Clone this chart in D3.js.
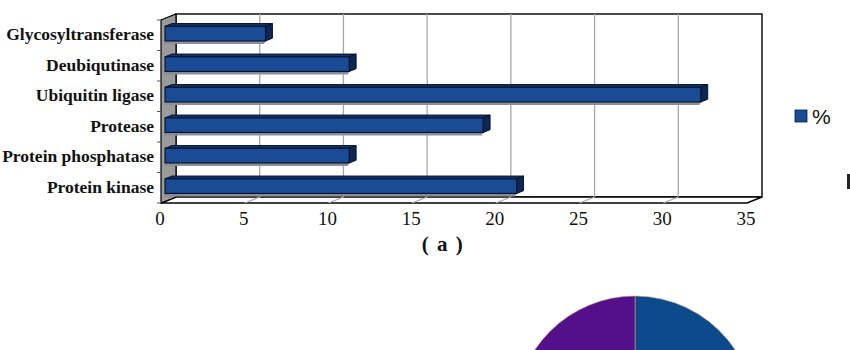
<!DOCTYPE html>
<html>
<head>
<meta charset="utf-8">
<script src="https://cdn.jsdelivr.net/npm/d3@7"></script>
<style>
  html, body { margin: 0; padding: 0; background: #fff; }
  svg { display: block; }
</style>
</head>
<body>
<svg id="chart" width="850" height="350"></svg>
<script>
// Enzyme classes, listed top to bottom
const categories = [
  "Glycosyltransferase",
  "Deubiqutinase",
  "Ubiquitin ligase",
  "Protease",
  "Protein phosphatase",
  "Protein kinase"
];
// Share of each class, %
const percentValues = [6, 11, 32, 19, 11, 21];
const xTicks = [0, 5, 10, 15, 20, 25, 30, 35];
const seriesName = "%";

// Pie (b): only its upper part fits in the frame
const pieLabels = ["Blue", "Brown", "Green", "Purple"];
const pieValues = [28, 22, 25, 25];
const pieColors = ["#0d4a8c", "#8a5a2b", "#4e8a2f", "#54108a"];

const SERIF = "Liberation Serif";
const SANS = "Liberation Sans";

const svg = d3.select("#chart");

// Depth offset of the 3D box (front plane -> back wall)
const DX = 15, DY = -6;
const x = d3.scaleLinear().domain([0, 35]).range([161, 747]);
const y = d3.scaleBand().domain(categories).range([20, 203]).paddingInner(0.52).paddingOuter(0.26);
const yBand = d3.scaleBand().domain(categories).range([20, 203]);
const proj = (vx, vy, d) => [x(vx) + d * DX, vy + d * DY];

const front = { top: 20, bottom: 203 };

// Back wall
svg.append("rect")
  .attr("x", x(0) + DX).attr("y", front.top + DY)
  .attr("width", x(35) - x(0)).attr("height", front.bottom - front.top)
  .attr("fill", "#fff").attr("stroke", "#000").attr("stroke-width", 1.4);

// Floor
svg.append("polygon")
  .attr("points", [proj(0, front.bottom, 0), proj(35, front.bottom, 0), proj(35, front.bottom, 1), proj(0, front.bottom, 1)].join(" "))
  .attr("fill", "#fff").attr("stroke", "#000").attr("stroke-width", 1.4);

// Grid lines on the wall and floor
const gridVals = xTicks.filter(v => v > 0 && v < 35);
svg.append("g").selectAll("line").data(gridVals).join("line")
  .attr("x1", d => x(d) + DX).attr("x2", d => x(d) + DX)
  .attr("y1", front.top + DY).attr("y2", front.bottom + DY)
  .attr("stroke", "#a8a8a8").attr("stroke-width", 1.3);
svg.append("g").selectAll("line").data(gridVals).join("line")
  .attr("x1", d => x(d)).attr("y1", front.bottom)
  .attr("x2", d => x(d) + DX).attr("y2", front.bottom + DY)
  .attr("stroke", "#a8a8a8").attr("stroke-width", 1.3);

// Left side wall
svg.append("polygon")
  .attr("points", [proj(0, front.top, 0), proj(0, front.top, 1), proj(0, front.bottom, 1), proj(0, front.bottom, 0)].join(" "))
  .attr("fill", "#9b9b9b").attr("stroke", "#000").attr("stroke-width", 1.2);

// Category tick marks on the front-left edge
svg.append("g").selectAll("line").data(categories.concat(["_end"])).join("line")
  .attr("x1", x(0) - 4).attr("x2", x(0))
  .attr("y1", (d, i) => i < categories.length ? yBand(d) : front.bottom)
  .attr("y2", (d, i) => i < categories.length ? yBand(d) : front.bottom)
  .attr("stroke", "#555").attr("stroke-width", 1);

// 3D bars
const d0 = 0.27, d1 = 0.73;
const bars = svg.append("g").selectAll("g").data(categories.map((c, i) => ({ c, v: percentValues[i] }))).join("g");
bars.each(function(d) {
  const g = d3.select(this);
  const t = y(d.c), b = y(d.c) + y.bandwidth();
  // floor shadow strip under the bar
  g.append("polygon")
    .attr("points", [proj(0, b, d0), proj(d.v, b, d0), proj(d.v, b + 2.5, d0 - 0.1), proj(0, b + 2.5, d0 - 0.1)].join(" "))
    .attr("fill", "#8c8f99");
  // top face
  g.append("polygon")
    .attr("points", [proj(0, t, d0), proj(d.v, t, d0), proj(d.v, t, d1), proj(0, t, d1)].join(" "))
    .attr("fill", "#12336b").attr("stroke", "#08142c").attr("stroke-width", 1);
  // right face
  g.append("polygon")
    .attr("points", [proj(d.v, t, d0), proj(d.v, t, d1), proj(d.v, b, d1), proj(d.v, b, d0)].join(" "))
    .attr("fill", "#0e2752").attr("stroke", "#08142c").attr("stroke-width", 1);
  // front face
  const p = proj(0, t, d0);
  g.append("rect")
    .attr("x", p[0]).attr("y", p[1])
    .attr("width", x(d.v) - x(0)).attr("height", b - t)
    .attr("fill", "#1a4c96").attr("stroke", "#08142c").attr("stroke-width", 1.2);
});

// Category labels: right-aligned; a label too long for the margin starts at the left edge
svg.append("g").selectAll("text").data(categories).join("text")
  .attr("x", 154).attr("y", d => yBand(d) + yBand.bandwidth() / 2 + 5)
  .attr("text-anchor", "end")
  .style("font-family", SERIF)
  .attr("font-weight", "bold").attr("font-size", 17.5)
  .attr("fill", "#111")
  .text(d => d)
  .each(function() {
    const w = this.getComputedTextLength();
    if (w > 153) d3.select(this).attr("text-anchor", "start").attr("x", 0.5);
  });

// Value axis labels
svg.append("g").selectAll("text").data(xTicks).join("text")
  .attr("x", d => x(d) - 1).attr("y", 225)
  .attr("text-anchor", "middle")
  .style("font-family", SERIF)
  .attr("font-size", 19).attr("fill", "#111")
  .text(d => d);

// Panel caption
svg.append("text")
  .attr("x", 443).attr("y", 251)
  .attr("text-anchor", "middle")
  .style("font-family", SERIF)
  .style("letter-spacing", "1.5px")
  .attr("font-weight", "bold").attr("font-size", 21).attr("fill", "#111")
  .text("( a )");

// Legend
svg.append("rect").attr("x", 795).attr("y", 110).attr("width", 12).attr("height", 12)
  .attr("fill", "#1a4c96").attr("stroke", "#0a1a3a").attr("stroke-width", 0.8);
svg.append("text").attr("x", 812).attr("y", 124)
  .style("font-family", SANS)
  .attr("font-size", 21).attr("fill", "#111")
  .text(seriesName);
// Edge of the next panel's legend key
svg.append("rect").attr("x", 847).attr("y", 174).attr("width", 4).attr("height", 15).attr("fill", "#222");

// Pie (b)
const pie = d3.pie().sort(null).value(d => d)(pieValues);
const arc = d3.arc().innerRadius(0).outerRadius(120);
svg.append("g").attr("transform", "translate(635,416)")
  .selectAll("path").data(pie).join("path")
  .attr("d", arc)
  .attr("fill", (d, i) => pieColors[i])
  .attr("stroke", "#c7a27a").attr("stroke-width", 0.6);
</script>
</body>
</html>
